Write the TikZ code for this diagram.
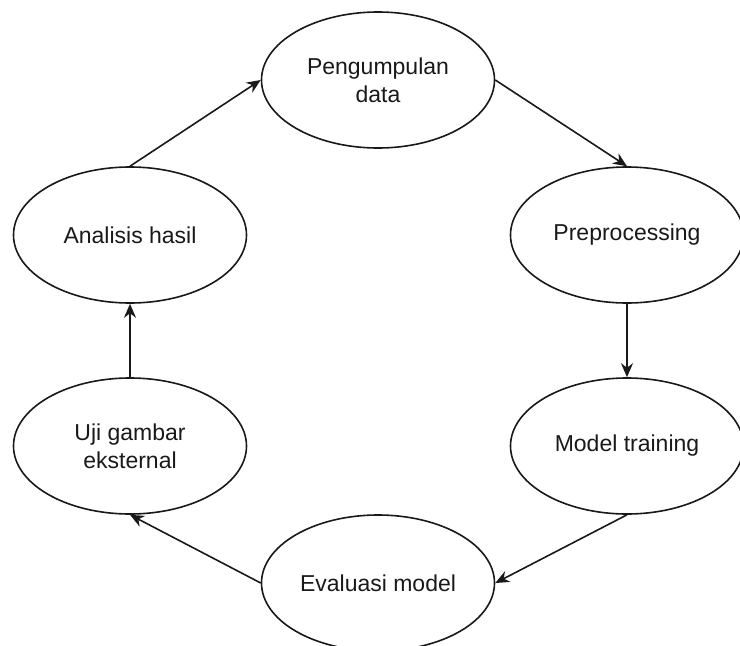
\documentclass[tikz,border=0pt]{standalone}
\usepackage{fontspec}
\setmainfont{Liberation Sans}
\usetikzlibrary{shapes.geometric,arrows.meta}
\begin{document}
\begin{tikzpicture}[x=1pt,y=-1pt,
  stage/.style={ellipse,draw=black!90,line width=1.6pt,inner sep=0pt,
    minimum width=233pt,minimum height=136pt,align=center,
    text=black!90,font=\fontsize{23}{28}\selectfont},
  flow/.style={draw=black!90,line width=1.6pt,-{Stealth[length=14pt,width=12pt]}}]
\useasboundingbox (0,0) rectangle (740,646);
\node[stage] (pen) at (378,80) {Pengumpulan\\data};
\node[stage] (pre) at (627,235) {Preprocessing};
\node[stage] (mod) at (627,446) {Model training};
\node[stage] (eva) at (378,583) {Evaluasi model};
\node[stage] (uji) at (130,446) {Uji gambar\\eksternal};
\node[stage] (ana) at (130,235) {Analisis hasil};
\draw[flow] (ana.north) -- (pen.west);
\draw[flow] (pen.east) -- (pre.north);
\draw[flow] (pre.south) -- (mod.north);
\draw[flow] (mod.south) -- (eva.east);
\draw[flow] (eva.west) -- (uji.south);
\draw[flow] (uji.north) -- (ana.south);
\end{tikzpicture}
\end{document}
